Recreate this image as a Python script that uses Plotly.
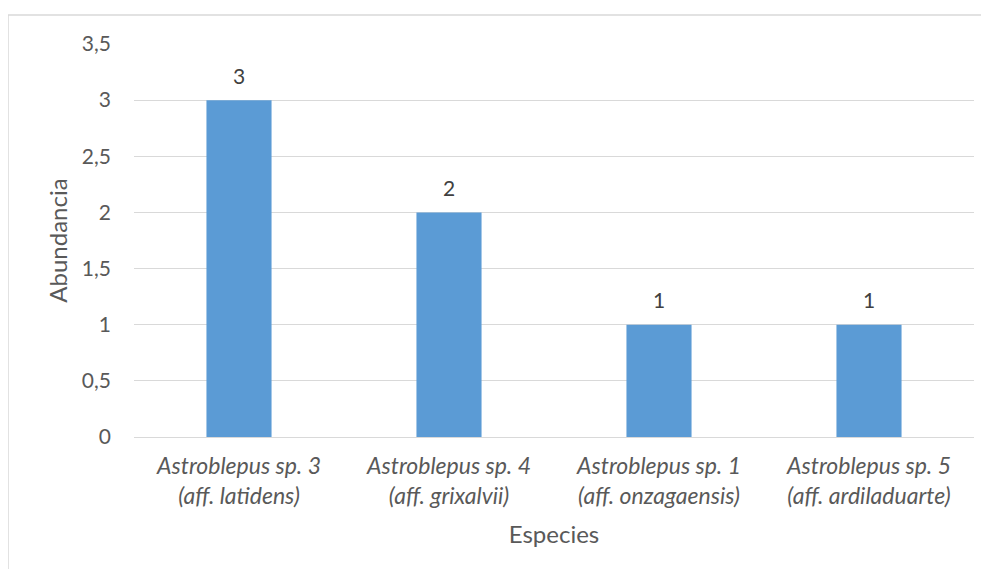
import plotly.graph_objects as go

categories = [
    "Astroblepus sp. 3<br>(aff. latidens)",
    "Astroblepus sp. 4<br>(aff. grixalvii)",
    "Astroblepus sp. 1<br>(aff. onzagaensis)",
    "Astroblepus sp. 5<br>(aff. ardiladuarte)",
]
abundancia = [3, 2, 1, 1]
y_ticks = [0, 0.5, 1, 1.5, 2, 2.5, 3, 3.5]

FONT = "Lato"
TXT = "#595959"

fig = go.Figure(go.Bar(
    x=categories, y=abundancia,
    marker=dict(color="#5b9bd5", line=dict(width=0)),
    width=0.31,
))

for c, v in zip(categories, abundancia):
    fig.add_annotation(
        x=c, y=v, text=str(v), showarrow=False,
        yanchor="middle", yshift=25,
        font=dict(family=FONT, size=21, color="#404040"),
    )

# page body has an 8px margin
W, H = 973, 561
L, R, T, B = 126, 7, 36, 132
pw, ph = W - L - R, H - T - B

def px_x(p):
    return (p - 8 - L) / pw

def px_y(p):
    return (H - B - (p - 8)) / ph

fig.update_layout(
    width=W, height=H,
    margin=dict(l=L, r=R, t=T, b=B),
    paper_bgcolor="white", plot_bgcolor="white",
    separators=",.",
    showlegend=False,
    font=dict(family=FONT, color=TXT),
    xaxis=dict(
        showgrid=False, showline=False, ticks="",
        tickfont=dict(family=FONT, size=23, color=TXT, style="italic"),
        ticklabelstandoff=13,
        title=dict(text="Especies", font=dict(family=FONT, size=24, color=TXT), standoff=18),
    ),
    yaxis=dict(
        range=[0, 3.5], tickvals=y_ticks,
        ticktext=[f"{v:g}".replace(".", ",") for v in y_ticks],
        showgrid=True, gridcolor="#d9d9d9", gridwidth=1,
        zeroline=True, zerolinecolor="#d9d9d9", zerolinewidth=1,
        showline=False, ticks="",
        tickfont=dict(family=FONT, size=21, color=TXT),
        ticklabelstandoff=22,
        title=dict(text="Abundancia", font=dict(family=FONT, size=24, color=TXT), standoff=7),
    ),
    shapes=[
        dict(type="line", xref="paper", yref="paper",
             x0=px_x(8), x1=px_x(1000), y0=px_y(15), y1=px_y(15),
             line=dict(color="#d9d9d9", width=1.5)),
        dict(type="line", xref="paper", yref="paper",
             x0=px_x(8), x1=px_x(8), y0=px_y(15), y1=px_y(600),
             line=dict(color="#d9d9d9", width=1.5)),
    ],
)

fig.write_html("out.html")
